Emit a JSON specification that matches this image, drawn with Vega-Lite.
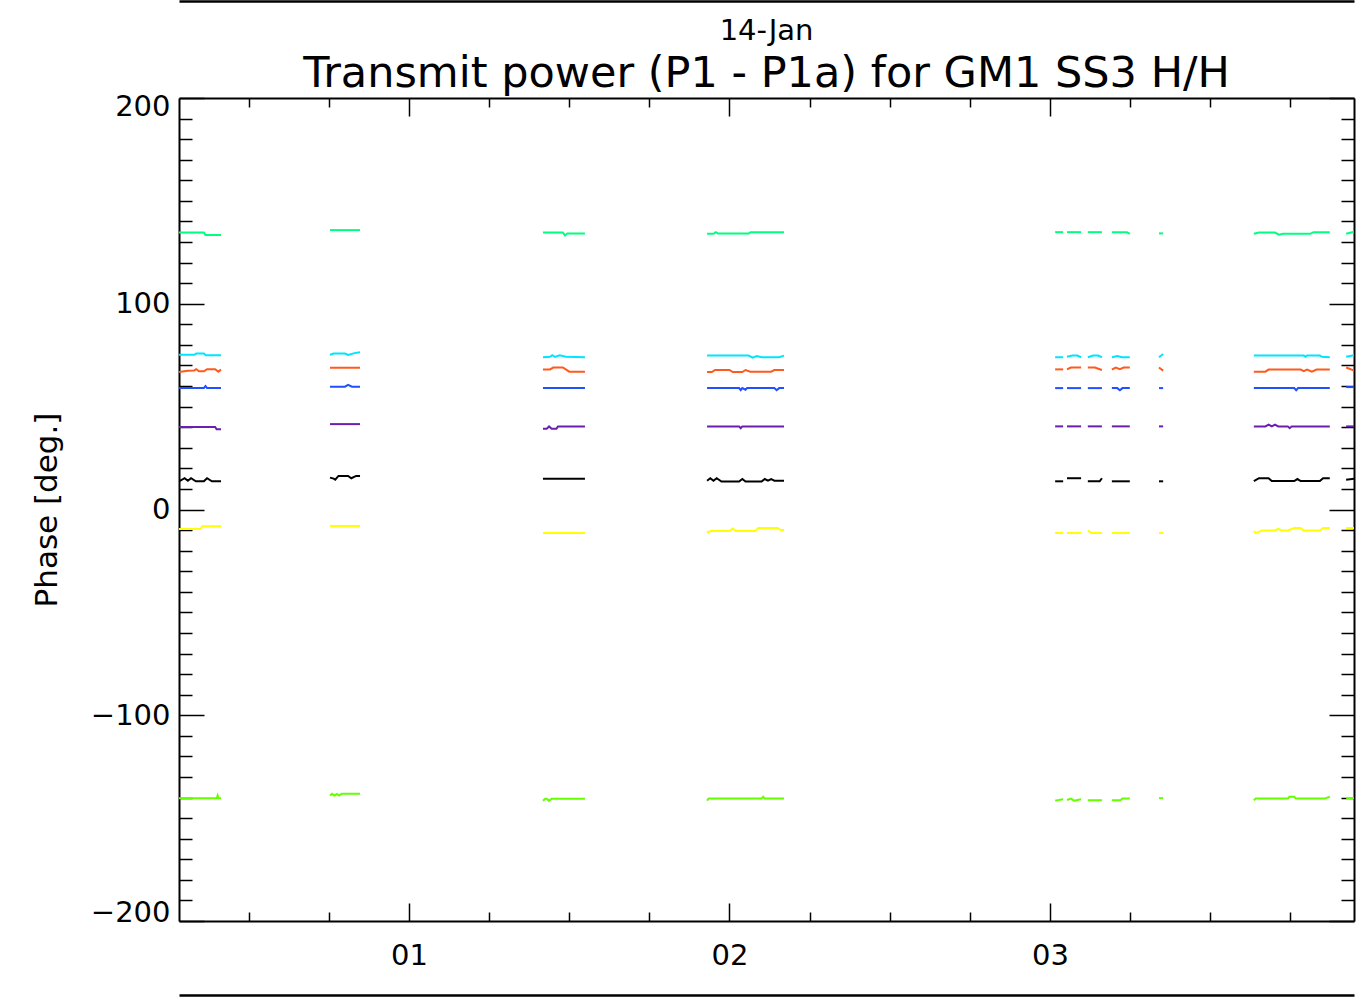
{
  "$schema": "https://vega.github.io/schema/vega-lite/v6.json",
  "width": 1175,
  "height": 823,
  "autosize": {"type": "none"},
  "padding": {"left": 179, "top": 98, "right": 12, "bottom": 79},
  "background": "white",
  "view": {"stroke": null},
  "config": {
    "font": "DejaVu Sans",
    "axis": {
      "grid": false,
      "domainColor": "black",
      "domainWidth": 2,
      "tickColor": "black",
      "tickWidth": 1.5,
      "labelColor": "black",
      "labelFont": "DejaVu Sans",
      "labelFontSize": 29,
      "titleColor": "black",
      "titleFont": "DejaVu Sans",
      "titleFontWeight": "normal"
    }
  },
  "title": {
    "text": "14-Jan",
    "subtitle": "Transmit power (P1 - P1a) for GM1 SS3 H/H",
    "anchor": "middle",
    "orient": "top",
    "font": "DejaVu Sans",
    "subtitleFont": "DejaVu Sans",
    "fontSize": 29,
    "fontWeight": "normal",
    "color": "black",
    "subtitleFontSize": 43,
    "subtitleColor": "black",
    "subtitlePadding": 7,
    "offset": -95
  },
  "data": {
    "values": [
      {"series":"green","seg":"A","hour":0.2824,"phase":134.6},
      {"series":"green","seg":"A","hour":0.36,"phase":134.6},
      {"series":"green","seg":"A","hour":0.365,"phase":133.4},
      {"series":"green","seg":"A","hour":0.4135,"phase":133.4},
      {"series":"green","seg":"B","hour":0.7535,"phase":135.8},
      {"series":"green","seg":"B","hour":0.8472,"phase":135.8},
      {"series":"green","seg":"C","hour":1.418,"phase":134.6},
      {"series":"green","seg":"C","hour":1.48,"phase":134.6},
      {"series":"green","seg":"C","hour":1.487,"phase":133.2},
      {"series":"green","seg":"C","hour":1.494,"phase":134.2},
      {"series":"green","seg":"C","hour":1.549,"phase":134.2},
      {"series":"green","seg":"D","hour":1.93,"phase":134},
      {"series":"green","seg":"D","hour":1.95,"phase":134},
      {"series":"green","seg":"D","hour":1.957,"phase":134.8},
      {"series":"green","seg":"D","hour":1.964,"phase":134.2},
      {"series":"green","seg":"D","hour":2.06,"phase":134.2},
      {"series":"green","seg":"D","hour":2.066,"phase":134.8},
      {"series":"green","seg":"D","hour":2.17,"phase":134.8},
      {"series":"green","seg":"E1","hour":3.016,"phase":134.8},
      {"series":"green","seg":"E1","hour":3.041,"phase":134.8},
      {"series":"green","seg":"E2","hour":3.053,"phase":134.8},
      {"series":"green","seg":"E2","hour":3.097,"phase":134.8},
      {"series":"green","seg":"E3","hour":3.118,"phase":134.8},
      {"series":"green","seg":"E3","hour":3.162,"phase":134.8},
      {"series":"green","seg":"E4","hour":3.193,"phase":134.8},
      {"series":"green","seg":"E4","hour":3.24,"phase":134.8},
      {"series":"green","seg":"E4","hour":3.249,"phase":134},
      {"series":"green","seg":"E5","hour":3.34,"phase":134.2},
      {"series":"green","seg":"E5","hour":3.353,"phase":134.2},
      {"series":"green","seg":"F","hour":3.636,"phase":134},
      {"series":"green","seg":"F","hour":3.652,"phase":134.6},
      {"series":"green","seg":"F","hour":3.702,"phase":134.6},
      {"series":"green","seg":"F","hour":3.714,"phase":133.6},
      {"series":"green","seg":"F","hour":3.727,"phase":134},
      {"series":"green","seg":"F","hour":3.812,"phase":134},
      {"series":"green","seg":"F","hour":3.822,"phase":134.8},
      {"series":"green","seg":"F","hour":3.873,"phase":134.8},
      {"series":"green","seg":"G","hour":3.924,"phase":134},
      {"series":"green","seg":"G","hour":3.949,"phase":135},

      {"series":"cyan","seg":"A","hour":0.2824,"phase":75.2},
      {"series":"cyan","seg":"A","hour":0.33,"phase":75.2},
      {"series":"cyan","seg":"A","hour":0.336,"phase":75.8},
      {"series":"cyan","seg":"A","hour":0.36,"phase":75.8},
      {"series":"cyan","seg":"A","hour":0.366,"phase":75},
      {"series":"cyan","seg":"A","hour":0.4135,"phase":75},
      {"series":"cyan","seg":"B","hour":0.7535,"phase":75.2},
      {"series":"cyan","seg":"B","hour":0.765,"phase":75.8},
      {"series":"cyan","seg":"B","hour":0.8,"phase":75.8},
      {"series":"cyan","seg":"B","hour":0.81,"phase":75.1},
      {"series":"cyan","seg":"B","hour":0.83,"phase":76},
      {"series":"cyan","seg":"B","hour":0.8472,"phase":76.4},
      {"series":"cyan","seg":"C","hour":1.418,"phase":74},
      {"series":"cyan","seg":"C","hour":1.44,"phase":74.2},
      {"series":"cyan","seg":"C","hour":1.447,"phase":75},
      {"series":"cyan","seg":"C","hour":1.455,"phase":74.2},
      {"series":"cyan","seg":"C","hour":1.47,"phase":75},
      {"series":"cyan","seg":"C","hour":1.49,"phase":74.2},
      {"series":"cyan","seg":"C","hour":1.549,"phase":74},
      {"series":"cyan","seg":"D","hour":1.93,"phase":74.8},
      {"series":"cyan","seg":"D","hour":2.06,"phase":74.8},
      {"series":"cyan","seg":"D","hour":2.072,"phase":73.8},
      {"series":"cyan","seg":"D","hour":2.085,"phase":74.6},
      {"series":"cyan","seg":"D","hour":2.1,"phase":74},
      {"series":"cyan","seg":"D","hour":2.155,"phase":74},
      {"series":"cyan","seg":"D","hour":2.17,"phase":74.8},
      {"series":"cyan","seg":"E1","hour":3.016,"phase":74},
      {"series":"cyan","seg":"E1","hour":3.041,"phase":74},
      {"series":"cyan","seg":"E2","hour":3.053,"phase":74.2},
      {"series":"cyan","seg":"E2","hour":3.07,"phase":74.8},
      {"series":"cyan","seg":"E2","hour":3.085,"phase":74.8},
      {"series":"cyan","seg":"E2","hour":3.097,"phase":74},
      {"series":"cyan","seg":"E3","hour":3.118,"phase":74},
      {"series":"cyan","seg":"E3","hour":3.135,"phase":74.8},
      {"series":"cyan","seg":"E3","hour":3.15,"phase":74.8},
      {"series":"cyan","seg":"E3","hour":3.162,"phase":74},
      {"series":"cyan","seg":"E4","hour":3.193,"phase":74},
      {"series":"cyan","seg":"E4","hour":3.21,"phase":74.6},
      {"series":"cyan","seg":"E4","hour":3.225,"phase":74},
      {"series":"cyan","seg":"E4","hour":3.249,"phase":74},
      {"series":"cyan","seg":"E5","hour":3.34,"phase":74},
      {"series":"cyan","seg":"E5","hour":3.353,"phase":75.6},
      {"series":"cyan","seg":"F","hour":3.636,"phase":74.8},
      {"series":"cyan","seg":"F","hour":3.792,"phase":74.8},
      {"series":"cyan","seg":"F","hour":3.797,"phase":74.2},
      {"series":"cyan","seg":"F","hour":3.802,"phase":74.8},
      {"series":"cyan","seg":"F","hour":3.842,"phase":74.8},
      {"series":"cyan","seg":"F","hour":3.848,"phase":74.2},
      {"series":"cyan","seg":"F","hour":3.873,"phase":74},
      {"series":"cyan","seg":"G","hour":3.924,"phase":74.2},
      {"series":"cyan","seg":"G","hour":3.949,"phase":75},

      {"series":"orange","seg":"A","hour":0.2824,"phase":66.8},
      {"series":"orange","seg":"A","hour":0.31,"phase":67.4},
      {"series":"orange","seg":"A","hour":0.33,"phase":67.6},
      {"series":"orange","seg":"A","hour":0.336,"phase":68.2},
      {"series":"orange","seg":"A","hour":0.345,"phase":67.2},
      {"series":"orange","seg":"A","hour":0.36,"phase":67.2},
      {"series":"orange","seg":"A","hour":0.37,"phase":68.2},
      {"series":"orange","seg":"A","hour":0.395,"phase":68.2},
      {"series":"orange","seg":"A","hour":0.405,"phase":67},
      {"series":"orange","seg":"A","hour":0.4135,"phase":68},
      {"series":"orange","seg":"B","hour":0.7535,"phase":68.9},
      {"series":"orange","seg":"B","hour":0.8472,"phase":68.9},
      {"series":"orange","seg":"C","hour":1.418,"phase":68.1},
      {"series":"orange","seg":"C","hour":1.44,"phase":68.1},
      {"series":"orange","seg":"C","hour":1.45,"phase":69},
      {"series":"orange","seg":"C","hour":1.48,"phase":69},
      {"series":"orange","seg":"C","hour":1.5,"phase":67},
      {"series":"orange","seg":"C","hour":1.549,"phase":67},
      {"series":"orange","seg":"D","hour":1.93,"phase":66.8},
      {"series":"orange","seg":"D","hour":1.945,"phase":66.8},
      {"series":"orange","seg":"D","hour":1.955,"phase":67.8},
      {"series":"orange","seg":"D","hour":2.0,"phase":67.8},
      {"series":"orange","seg":"D","hour":2.01,"phase":66.8},
      {"series":"orange","seg":"D","hour":2.04,"phase":66.8},
      {"series":"orange","seg":"D","hour":2.05,"phase":67.8},
      {"series":"orange","seg":"D","hour":2.065,"phase":67},
      {"series":"orange","seg":"D","hour":2.13,"phase":67},
      {"series":"orange","seg":"D","hour":2.14,"phase":67.8},
      {"series":"orange","seg":"D","hour":2.17,"phase":67.8},
      {"series":"orange","seg":"E1","hour":3.016,"phase":68.1},
      {"series":"orange","seg":"E1","hour":3.041,"phase":68.1},
      {"series":"orange","seg":"E2","hour":3.053,"phase":68.1},
      {"series":"orange","seg":"E2","hour":3.065,"phase":69},
      {"series":"orange","seg":"E2","hour":3.097,"phase":69},
      {"series":"orange","seg":"E3","hour":3.118,"phase":69},
      {"series":"orange","seg":"E3","hour":3.14,"phase":69},
      {"series":"orange","seg":"E3","hour":3.162,"phase":67.8},
      {"series":"orange","seg":"E4","hour":3.193,"phase":68},
      {"series":"orange","seg":"E4","hour":3.205,"phase":69},
      {"series":"orange","seg":"E4","hour":3.218,"phase":68.2},
      {"series":"orange","seg":"E4","hour":3.23,"phase":69},
      {"series":"orange","seg":"E4","hour":3.249,"phase":69},
      {"series":"orange","seg":"E5","hour":3.34,"phase":69},
      {"series":"orange","seg":"E5","hour":3.353,"phase":67.5},
      {"series":"orange","seg":"F","hour":3.636,"phase":67},
      {"series":"orange","seg":"F","hour":3.672,"phase":67},
      {"series":"orange","seg":"F","hour":3.682,"phase":68},
      {"series":"orange","seg":"F","hour":3.782,"phase":68},
      {"series":"orange","seg":"F","hour":3.792,"phase":67.2},
      {"series":"orange","seg":"F","hour":3.802,"phase":68},
      {"series":"orange","seg":"F","hour":3.817,"phase":67},
      {"series":"orange","seg":"F","hour":3.832,"phase":68},
      {"series":"orange","seg":"F","hour":3.873,"phase":68},
      {"series":"orange","seg":"G","hour":3.924,"phase":69},
      {"series":"orange","seg":"G","hour":3.949,"phase":67.5},

      {"series":"blue","seg":"A","hour":0.2824,"phase":59},
      {"series":"blue","seg":"A","hour":0.36,"phase":59},
      {"series":"blue","seg":"A","hour":0.365,"phase":60},
      {"series":"blue","seg":"A","hour":0.37,"phase":59},
      {"series":"blue","seg":"A","hour":0.4135,"phase":59},
      {"series":"blue","seg":"B","hour":0.7535,"phase":59.7},
      {"series":"blue","seg":"B","hour":0.8,"phase":59.7},
      {"series":"blue","seg":"B","hour":0.81,"phase":60.6},
      {"series":"blue","seg":"B","hour":0.822,"phase":59.7},
      {"series":"blue","seg":"B","hour":0.8472,"phase":59.7},
      {"series":"blue","seg":"C","hour":1.418,"phase":59},
      {"series":"blue","seg":"C","hour":1.549,"phase":59},
      {"series":"blue","seg":"D","hour":1.93,"phase":59},
      {"series":"blue","seg":"D","hour":2.03,"phase":59},
      {"series":"blue","seg":"D","hour":2.035,"phase":58},
      {"series":"blue","seg":"D","hour":2.04,"phase":59},
      {"series":"blue","seg":"D","hour":2.05,"phase":58.2},
      {"series":"blue","seg":"D","hour":2.055,"phase":59},
      {"series":"blue","seg":"D","hour":2.14,"phase":59},
      {"series":"blue","seg":"D","hour":2.147,"phase":58},
      {"series":"blue","seg":"D","hour":2.155,"phase":59},
      {"series":"blue","seg":"D","hour":2.17,"phase":59},
      {"series":"blue","seg":"E1","hour":3.016,"phase":59},
      {"series":"blue","seg":"E1","hour":3.041,"phase":59},
      {"series":"blue","seg":"E2","hour":3.053,"phase":59},
      {"series":"blue","seg":"E2","hour":3.097,"phase":59},
      {"series":"blue","seg":"E3","hour":3.118,"phase":59},
      {"series":"blue","seg":"E3","hour":3.162,"phase":59},
      {"series":"blue","seg":"E4","hour":3.193,"phase":59},
      {"series":"blue","seg":"E4","hour":3.21,"phase":59},
      {"series":"blue","seg":"E4","hour":3.218,"phase":58},
      {"series":"blue","seg":"E4","hour":3.226,"phase":59},
      {"series":"blue","seg":"E4","hour":3.249,"phase":59},
      {"series":"blue","seg":"E5","hour":3.34,"phase":59},
      {"series":"blue","seg":"E5","hour":3.353,"phase":59},
      {"series":"blue","seg":"F","hour":3.636,"phase":59},
      {"series":"blue","seg":"F","hour":3.762,"phase":59},
      {"series":"blue","seg":"F","hour":3.768,"phase":58},
      {"series":"blue","seg":"F","hour":3.774,"phase":59},
      {"series":"blue","seg":"F","hour":3.873,"phase":59},
      {"series":"blue","seg":"G","hour":3.924,"phase":59.5},
      {"series":"blue","seg":"G","hour":3.949,"phase":59.5},

      {"series":"purple","seg":"A","hour":0.2824,"phase":40.1},
      {"series":"purple","seg":"A","hour":0.395,"phase":40.1},
      {"series":"purple","seg":"A","hour":0.4,"phase":39},
      {"series":"purple","seg":"A","hour":0.4135,"phase":39},
      {"series":"purple","seg":"B","hour":0.7535,"phase":41.5},
      {"series":"purple","seg":"B","hour":0.8472,"phase":41.5},
      {"series":"purple","seg":"C","hour":1.418,"phase":39.3},
      {"series":"purple","seg":"C","hour":1.43,"phase":39.3},
      {"series":"purple","seg":"C","hour":1.437,"phase":40.4},
      {"series":"purple","seg":"C","hour":1.445,"phase":39.3},
      {"series":"purple","seg":"C","hour":1.46,"phase":39.3},
      {"series":"purple","seg":"C","hour":1.465,"phase":40.4},
      {"series":"purple","seg":"C","hour":1.549,"phase":40.4},
      {"series":"purple","seg":"D","hour":1.93,"phase":40.4},
      {"series":"purple","seg":"D","hour":2.03,"phase":40.4},
      {"series":"purple","seg":"D","hour":2.035,"phase":39.5},
      {"series":"purple","seg":"D","hour":2.04,"phase":40.4},
      {"series":"purple","seg":"D","hour":2.17,"phase":40.4},
      {"series":"purple","seg":"E1","hour":3.016,"phase":40.4},
      {"series":"purple","seg":"E1","hour":3.041,"phase":40.4},
      {"series":"purple","seg":"E2","hour":3.053,"phase":40.4},
      {"series":"purple","seg":"E2","hour":3.097,"phase":40.4},
      {"series":"purple","seg":"E3","hour":3.118,"phase":40.4},
      {"series":"purple","seg":"E3","hour":3.162,"phase":40.4},
      {"series":"purple","seg":"E4","hour":3.193,"phase":40.4},
      {"series":"purple","seg":"E4","hour":3.249,"phase":40.4},
      {"series":"purple","seg":"E5","hour":3.34,"phase":40.4},
      {"series":"purple","seg":"E5","hour":3.353,"phase":40.4},
      {"series":"purple","seg":"F","hour":3.636,"phase":40.4},
      {"series":"purple","seg":"F","hour":3.672,"phase":40.4},
      {"series":"purple","seg":"F","hour":3.682,"phase":41.2},
      {"series":"purple","seg":"F","hour":3.692,"phase":40.4},
      {"series":"purple","seg":"F","hour":3.702,"phase":41.2},
      {"series":"purple","seg":"F","hour":3.712,"phase":40.4},
      {"series":"purple","seg":"F","hour":3.742,"phase":40.4},
      {"series":"purple","seg":"F","hour":3.748,"phase":39.5},
      {"series":"purple","seg":"F","hour":3.754,"phase":40.4},
      {"series":"purple","seg":"F","hour":3.873,"phase":40.4},
      {"series":"purple","seg":"G","hour":3.924,"phase":40.4},
      {"series":"purple","seg":"G","hour":3.949,"phase":40.4},

      {"series":"black","seg":"A","hour":0.2824,"phase":13.7},
      {"series":"black","seg":"A","hour":0.3,"phase":15.2},
      {"series":"black","seg":"A","hour":0.31,"phase":14},
      {"series":"black","seg":"A","hour":0.32,"phase":15.2},
      {"series":"black","seg":"A","hour":0.335,"phase":13.7},
      {"series":"black","seg":"A","hour":0.36,"phase":13.7},
      {"series":"black","seg":"A","hour":0.37,"phase":15.2},
      {"series":"black","seg":"A","hour":0.385,"phase":13.7},
      {"series":"black","seg":"A","hour":0.4135,"phase":13.7},
      {"series":"black","seg":"B","hour":0.7535,"phase":15.5},
      {"series":"black","seg":"B","hour":0.765,"phase":15},
      {"series":"black","seg":"B","hour":0.77,"phase":14.5},
      {"series":"black","seg":"B","hour":0.78,"phase":16.3},
      {"series":"black","seg":"B","hour":0.81,"phase":16.3},
      {"series":"black","seg":"B","hour":0.82,"phase":15.2},
      {"series":"black","seg":"B","hour":0.835,"phase":16.3},
      {"series":"black","seg":"B","hour":0.8472,"phase":16.3},
      {"series":"black","seg":"C","hour":1.418,"phase":15},
      {"series":"black","seg":"C","hour":1.549,"phase":15},
      {"series":"black","seg":"D","hour":1.93,"phase":14},
      {"series":"black","seg":"D","hour":1.94,"phase":15.2},
      {"series":"black","seg":"D","hour":1.95,"phase":14},
      {"series":"black","seg":"D","hour":1.96,"phase":15.2},
      {"series":"black","seg":"D","hour":1.975,"phase":13.6},
      {"series":"black","seg":"D","hour":2.03,"phase":13.6},
      {"series":"black","seg":"D","hour":2.04,"phase":14.8},
      {"series":"black","seg":"D","hour":2.05,"phase":13.6},
      {"series":"black","seg":"D","hour":2.1,"phase":13.6},
      {"series":"black","seg":"D","hour":2.11,"phase":14.8},
      {"series":"black","seg":"D","hour":2.12,"phase":14},
      {"series":"black","seg":"D","hour":2.13,"phase":14.8},
      {"series":"black","seg":"D","hour":2.14,"phase":14},
      {"series":"black","seg":"D","hour":2.17,"phase":14},
      {"series":"black","seg":"E1","hour":3.016,"phase":13.7},
      {"series":"black","seg":"E1","hour":3.041,"phase":13.7},
      {"series":"black","seg":"E2","hour":3.053,"phase":15.2},
      {"series":"black","seg":"E2","hour":3.097,"phase":15.2},
      {"series":"black","seg":"E3","hour":3.118,"phase":13.7},
      {"series":"black","seg":"E3","hour":3.155,"phase":13.7},
      {"series":"black","seg":"E3","hour":3.162,"phase":15.2},
      {"series":"black","seg":"E4","hour":3.193,"phase":13.7},
      {"series":"black","seg":"E4","hour":3.249,"phase":13.7},
      {"series":"black","seg":"E5","hour":3.34,"phase":13.7},
      {"series":"black","seg":"E5","hour":3.353,"phase":13.7},
      {"series":"black","seg":"F","hour":3.636,"phase":13.8},
      {"series":"black","seg":"F","hour":3.652,"phase":15.2},
      {"series":"black","seg":"F","hour":3.682,"phase":15.2},
      {"series":"black","seg":"F","hour":3.692,"phase":13.8},
      {"series":"black","seg":"F","hour":3.762,"phase":13.8},
      {"series":"black","seg":"F","hour":3.772,"phase":14.8},
      {"series":"black","seg":"F","hour":3.782,"phase":13.8},
      {"series":"black","seg":"F","hour":3.842,"phase":13.8},
      {"series":"black","seg":"F","hour":3.852,"phase":15.2},
      {"series":"black","seg":"F","hour":3.873,"phase":15.2},
      {"series":"black","seg":"G","hour":3.924,"phase":14.5},
      {"series":"black","seg":"G","hour":3.949,"phase":15},

      {"series":"yellow","seg":"A","hour":0.2824,"phase":-9.5},
      {"series":"yellow","seg":"A","hour":0.35,"phase":-9.5},
      {"series":"yellow","seg":"A","hour":0.355,"phase":-8.2},
      {"series":"yellow","seg":"A","hour":0.4135,"phase":-8.2},
      {"series":"yellow","seg":"B","hour":0.7535,"phase":-8},
      {"series":"yellow","seg":"B","hour":0.8472,"phase":-8},
      {"series":"yellow","seg":"C","hour":1.418,"phase":-11.4},
      {"series":"yellow","seg":"C","hour":1.549,"phase":-11.4},
      {"series":"yellow","seg":"D","hour":1.93,"phase":-10.5},
      {"series":"yellow","seg":"D","hour":1.935,"phase":-11.3},
      {"series":"yellow","seg":"D","hour":1.94,"phase":-10.5},
      {"series":"yellow","seg":"D","hour":2.0,"phase":-10.5},
      {"series":"yellow","seg":"D","hour":2.01,"phase":-9.3},
      {"series":"yellow","seg":"D","hour":2.02,"phase":-10.5},
      {"series":"yellow","seg":"D","hour":2.08,"phase":-10.5},
      {"series":"yellow","seg":"D","hour":2.09,"phase":-9},
      {"series":"yellow","seg":"D","hour":2.15,"phase":-9},
      {"series":"yellow","seg":"D","hour":2.16,"phase":-10},
      {"series":"yellow","seg":"D","hour":2.17,"phase":-10},
      {"series":"yellow","seg":"E1","hour":3.016,"phase":-11.4},
      {"series":"yellow","seg":"E1","hour":3.041,"phase":-11.4},
      {"series":"yellow","seg":"E2","hour":3.053,"phase":-11.4},
      {"series":"yellow","seg":"E2","hour":3.097,"phase":-11.4},
      {"series":"yellow","seg":"E3","hour":3.118,"phase":-10.3},
      {"series":"yellow","seg":"E3","hour":3.13,"phase":-11.4},
      {"series":"yellow","seg":"E3","hour":3.162,"phase":-11.4},
      {"series":"yellow","seg":"E4","hour":3.193,"phase":-11.4},
      {"series":"yellow","seg":"E4","hour":3.249,"phase":-11.4},
      {"series":"yellow","seg":"E5","hour":3.34,"phase":-11.4},
      {"series":"yellow","seg":"E5","hour":3.353,"phase":-11.4},
      {"series":"yellow","seg":"F","hour":3.636,"phase":-10.5},
      {"series":"yellow","seg":"F","hour":3.642,"phase":-11.5},
      {"series":"yellow","seg":"F","hour":3.662,"phase":-10.2},
      {"series":"yellow","seg":"F","hour":3.702,"phase":-10.2},
      {"series":"yellow","seg":"F","hour":3.712,"phase":-9.4},
      {"series":"yellow","seg":"F","hour":3.722,"phase":-10.2},
      {"series":"yellow","seg":"F","hour":3.742,"phase":-10.2},
      {"series":"yellow","seg":"F","hour":3.762,"phase":-9},
      {"series":"yellow","seg":"F","hour":3.782,"phase":-9},
      {"series":"yellow","seg":"F","hour":3.792,"phase":-10.2},
      {"series":"yellow","seg":"F","hour":3.842,"phase":-10.2},
      {"series":"yellow","seg":"F","hour":3.852,"phase":-9},
      {"series":"yellow","seg":"F","hour":3.873,"phase":-9},
      {"series":"yellow","seg":"G","hour":3.924,"phase":-9},
      {"series":"yellow","seg":"G","hour":3.949,"phase":-9},

      {"series":"lime","seg":"A","hour":0.2824,"phase":-140.4},
      {"series":"lime","seg":"A","hour":0.4,"phase":-140.4},
      {"series":"lime","seg":"A","hour":0.403,"phase":-139},
      {"series":"lime","seg":"A","hour":0.406,"phase":-140.4},
      {"series":"lime","seg":"A","hour":0.4135,"phase":-140.4},
      {"series":"lime","seg":"B","hour":0.7535,"phase":-139},
      {"series":"lime","seg":"B","hour":0.76,"phase":-138.2},
      {"series":"lime","seg":"B","hour":0.767,"phase":-139},
      {"series":"lime","seg":"B","hour":0.775,"phase":-138.2},
      {"series":"lime","seg":"B","hour":0.782,"phase":-139},
      {"series":"lime","seg":"B","hour":0.79,"phase":-138.2},
      {"series":"lime","seg":"B","hour":0.8472,"phase":-138.2},
      {"series":"lime","seg":"C","hour":1.418,"phase":-141.6},
      {"series":"lime","seg":"C","hour":1.425,"phase":-140.6},
      {"series":"lime","seg":"C","hour":1.43,"phase":-140.6},
      {"series":"lime","seg":"C","hour":1.437,"phase":-141.6},
      {"series":"lime","seg":"C","hour":1.445,"phase":-140.6},
      {"series":"lime","seg":"C","hour":1.549,"phase":-140.6},
      {"series":"lime","seg":"D","hour":1.93,"phase":-141.5},
      {"series":"lime","seg":"D","hour":1.935,"phase":-140.5},
      {"series":"lime","seg":"D","hour":2.1,"phase":-140.5},
      {"series":"lime","seg":"D","hour":2.105,"phase":-139.6},
      {"series":"lime","seg":"D","hour":2.11,"phase":-140.5},
      {"series":"lime","seg":"D","hour":2.17,"phase":-140.5},
      {"series":"lime","seg":"E1","hour":3.016,"phase":-141.5},
      {"series":"lime","seg":"E1","hour":3.041,"phase":-140.8},
      {"series":"lime","seg":"E2","hour":3.053,"phase":-141.2},
      {"series":"lime","seg":"E2","hour":3.065,"phase":-140.5},
      {"series":"lime","seg":"E2","hour":3.075,"phase":-141.5},
      {"series":"lime","seg":"E2","hour":3.097,"phase":-140.8},
      {"series":"lime","seg":"E3","hour":3.118,"phase":-141.3},
      {"series":"lime","seg":"E3","hour":3.162,"phase":-141.3},
      {"series":"lime","seg":"E4","hour":3.193,"phase":-141.3},
      {"series":"lime","seg":"E4","hour":3.22,"phase":-141.3},
      {"series":"lime","seg":"E4","hour":3.226,"phase":-140.5},
      {"series":"lime","seg":"E4","hour":3.249,"phase":-140.5},
      {"series":"lime","seg":"E5","hour":3.34,"phase":-140.3},
      {"series":"lime","seg":"E5","hour":3.353,"phase":-140.3},
      {"series":"lime","seg":"F","hour":3.636,"phase":-141.3},
      {"series":"lime","seg":"F","hour":3.642,"phase":-140.5},
      {"series":"lime","seg":"F","hour":3.742,"phase":-140.5},
      {"series":"lime","seg":"F","hour":3.747,"phase":-139.6},
      {"series":"lime","seg":"F","hour":3.762,"phase":-139.6},
      {"series":"lime","seg":"F","hour":3.767,"phase":-140.5},
      {"series":"lime","seg":"F","hour":3.857,"phase":-140.5},
      {"series":"lime","seg":"F","hour":3.873,"phase":-139.6},
      {"series":"lime","seg":"G","hour":3.924,"phase":-140.3},
      {"series":"lime","seg":"G","hour":3.949,"phase":-140.3}
    ]
  },
  "layer": [
    {
      "mark": {"type": "line", "strokeWidth": 2, "clip": true},
      "encoding": {
        "x": {"field": "hour", "type": "quantitative",
          "scale": {"domain": [0.2824, 3.9485], "nice": false, "zero": false},
          "axis": {"orient": "bottom", "values": [1, 2, 3], "tickSize": -18, "labelPadding": 38,
            "labelExpr": "'0' + datum.value", "labelFontSize": 29, "labelFlush": false, "labelOverlap": false,
            "title": null, "domain": true}},
        "y": {"field": "phase", "type": "quantitative",
          "scale": {"domain": [-200, 200], "nice": false},
          "axis": {"orient": "left", "values": [-200, -100, 0, 100, 200], "tickSize": -25, "labelPadding": 34,
            "labelFlush": true, "labelFlushOffset": 6, "labelOverlap": false, "labelFontSize": 29,
            "title": "Phase [deg.]", "titleFontSize": 31, "titlePadding": 27, "domain": true}},
        "color": {"field": "series", "type": "nominal", "legend": null,
          "scale": {"domain": ["green", "cyan", "orange", "blue", "purple", "black", "yellow", "lime"],
            "range": ["#00ff80", "#00e5ff", "#ff5a1e", "#2050ff", "#6a1fb0", "#000000", "#ffff00", "#66ff00"]}},
        "detail": {"field": "seg", "type": "nominal"}
      }
    },
    {
      "data": {"values": [{"hour": 1, "phase": 0}]},
      "mark": {"type": "point", "opacity": 0},
      "encoding": {
        "x": {"field": "hour", "type": "quantitative",
          "axis": {"orient": "bottom", "values": [0.5, 0.75, 1.25, 1.5, 1.75, 2.25, 2.5, 2.75, 3.25, 3.5, 3.75],
            "tickSize": -9, "labels": false, "domain": false, "title": null}},
        "y": {"field": "phase", "type": "quantitative",
          "axis": {"orient": "left", "values": [-190, -180, -170, -160, -150, -140, -130, -120, -110, -90, -80, -70, -60, -50, -40, -30, -20, -10, 10, 20, 30, 40, 50, 60, 70, 80, 90, 110, 120, 130, 140, 150, 160, 170, 180, 190],
            "tickSize": -13, "labels": false, "domain": false, "title": null}}
      }
    },
    {
      "data": {"values": [{"hour": 1, "phase": 0}]},
      "mark": {"type": "point", "opacity": 0},
      "encoding": {
        "x": {"field": "hour", "type": "quantitative",
          "axis": {"orient": "top", "values": [1, 2, 3], "tickSize": -18, "labels": false, "domain": true, "title": null}},
        "y": {"field": "phase", "type": "quantitative",
          "axis": {"orient": "right", "values": [-200, -100, 0, 100, 200], "tickSize": -25, "labels": false, "domain": true, "title": null}}
      }
    },
    {
      "data": {"values": [{"hour": 1, "phase": 0}]},
      "mark": {"type": "point", "opacity": 0},
      "encoding": {
        "x": {"field": "hour", "type": "quantitative",
          "axis": {"orient": "top", "values": [0.5, 0.75, 1.25, 1.5, 1.75, 2.25, 2.5, 2.75, 3.25, 3.5, 3.75],
            "tickSize": -9, "labels": false, "domain": false, "title": null}},
        "y": {"field": "phase", "type": "quantitative",
          "axis": {"orient": "right", "values": [-190, -180, -170, -160, -150, -140, -130, -120, -110, -90, -80, -70, -60, -50, -40, -30, -20, -10, 10, 20, 30, 40, 50, 60, 70, 80, 90, 110, 120, 130, 140, 150, 160, 170, 180, 190],
            "tickSize": -13, "labels": false, "domain": false, "title": null}}
      }
    },
    {
      "data": {"values": [{"hour": 1, "phase": 0}]},
      "mark": {"type": "point", "opacity": 0},
      "encoding": {
        "x": {"field": "hour", "type": "quantitative",
          "axis": {"orient": "top", "offset": 97, "ticks": false, "labels": false, "domain": true, "domainWidth": 2.5, "title": null}},
        "y": {"field": "phase", "type": "quantitative", "axis": null}
      }
    },
    {
      "data": {"values": [{"hour": 1, "phase": 0}]},
      "mark": {"type": "point", "opacity": 0},
      "encoding": {
        "x": {"field": "hour", "type": "quantitative",
          "axis": {"orient": "bottom", "offset": 74, "ticks": false, "labels": false, "domain": true, "domainWidth": 2.5, "title": null}},
        "y": {"field": "phase", "type": "quantitative", "axis": null}
      }
    }
  ],
  "resolve": {"axis": {"x": "independent", "y": "independent"}}
}
